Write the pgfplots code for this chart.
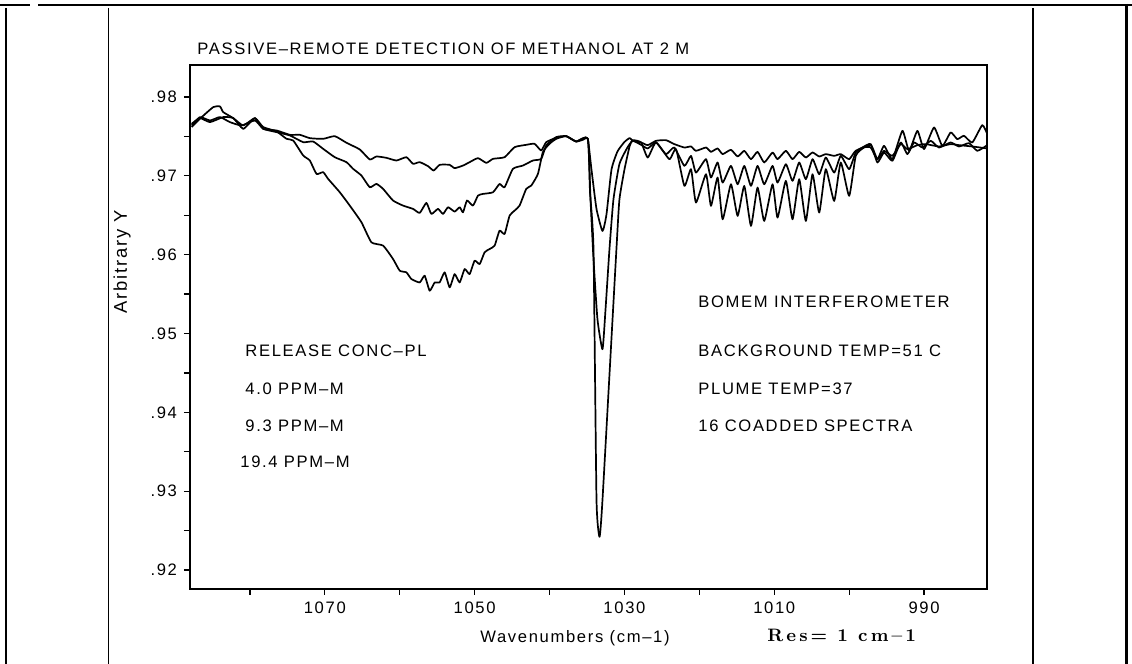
\documentclass[border=0pt]{standalone}
\usepackage{fontspec}
\usepackage{pgfplots}
\pgfplotsset{compat=1.18}
\newfontfamily\plotfont[LetterSpace=10]{Liberation Sans}
\newfontfamily\resfont[LetterSpace=17]{Latin Modern Roman}
\newcommand{\pf}{\plotfont\fontsize{8.3}{10}\selectfont}
\begin{document}
\begin{tikzpicture}[x=1pt,y=1pt]
\path[use as bounding box] (0,0) rectangle (566,332);
% page frame
\draw[line width=1pt] (0,329.5) -- (15,329.5);
\draw[line width=1pt] (19,329.5) -- (566,329.5);
\draw[line width=0.9pt] (3,328) -- (3,0);
\draw[line width=0.5pt] (54,328) -- (54,0);
\draw[line width=0.6pt] (516.5,328) -- (516.5,0);
\draw[line width=1.3pt] (563.3,330) -- (563.3,0);
\begin{axis}[
  at={(95pt,37.5pt)}, anchor=south west,
  scale only axis, width=398.5pt, height=262pt,
  x dir=reverse,
  xmin=981.6, xmax=1088, ymin=0.91758, ymax=0.98407,
  axis line style={line width=0.7pt},
  tick align=outside, major tick length=3pt,
  tick style={line width=0.6pt, black},
  xtick={1080,1070,1060,1050,1040,1030,1020,1010,1000,990},
  xticklabels={,1070,,1050,,1030,,1010,,990},
  ytick={0.92,0.925,0.93,0.935,0.94,0.945,0.95,0.955,0.96,0.965,0.97,0.975,0.98},
  yticklabels={.92,,.93,,.94,,.95,,.96,,.97,,.98},
  xtick pos=bottom, ytick pos=left,
  ticklabel style={font=\pf},
  /pgf/number format/assume math mode=true,
]
% 4.0 PPM-M
\addplot[black, line width=0.85pt, line join=round, smooth, tension=0.3] coordinates {
(1087.78,0.97661)(1086.67,0.97733)(1085.33,0.97682)(1083.56,0.97746)(1082.22,0.97733)
(1080.89,0.97597)(1079.33,0.97733)(1078.22,0.97597)(1076.44,0.97576)(1074.67,0.97521)
(1073.33,0.97521)(1072.0,0.97479)(1070.22,0.97470)(1068.67,0.97504)(1067.11,0.97420)
(1065.33,0.97335)(1064.0,0.97208)(1063.11,0.97246)(1061.78,0.97229)(1060.44,0.97195)
(1059.11,0.97237)(1058.22,0.97153)(1057.33,0.97174)(1056.22,0.97123)(1055.47,0.97068)
(1054.67,0.97140)(1053.33,0.97140)(1052.67,0.97098)(1051.55,0.97131)(1050.67,0.97174)
(1049.55,0.97225)(1048.44,0.97165)(1047.55,0.97216)(1046.0,0.97237)(1044.67,0.97364)
(1043.11,0.97394)(1042.0,0.97407)(1041.11,0.97322)(1040.44,0.97428)(1039.11,0.97483)
(1037.78,0.97504)(1036.44,0.97436)(1035.5,0.97460)(1034.89,0.97470)
(1034.4,0.9708)(1033.73,0.9658)(1032.93,0.9630)(1032.4,0.9651)(1031.73,0.9708)
(1030.93,0.9731)(1030.0,0.9743)(1029.3,0.9748)
(1028.89,0.97445)(1027.78,0.97424)(1026.89,0.97390)(1025.78,0.97445)(1024.45,0.97453)
(1023.34,0.97403)
(1022.0,0.97360)(1021.11,0.97373)(1020.45,0.97318)(1019.11,0.97360)(1018.45,0.97305)
(1017.56,0.97348)(1016.89,0.97276)(1015.78,0.97331)(1014.89,0.97246)(1014.0,0.97318)
(1013.11,0.97212)(1012.23,0.97305)(1011.34,0.97170)(1010.23,0.97297)(1009.56,0.97212)
(1008.45,0.97318)(1007.56,0.97212)(1006.67,0.97305)(1005.78,0.97233)(1004.89,0.97297)
(1004.0,0.97246)(1003.12,0.97276)(1002.0,0.97254)(1001.12,0.97276)(1000.0,0.97212)
(999.12,0.97318)(997.12,0.97390)(996.23,0.97212)(995.34,0.97318)(994.23,0.97254)
(993.12,0.97403)(992.22,0.97340)(990.89,0.97390)(989.78,0.97403)(988.0,0.97373)
(986.45,0.97403)(985.34,0.97390)(983.56,0.97373)(981.56,0.97348)
};
% 9.3 PPM-M
\addplot[black, line width=0.85pt, line join=round, smooth, tension=0.3] coordinates {
(1087.78,0.97640)(1086.67,0.97746)(1085.33,0.97703)(1084.0,0.97746)(1082.67,0.97682)
(1081.11,0.97640)(1079.33,0.97703)(1078.22,0.97597)(1076.44,0.97555)(1074.67,0.97513)
(1072.89,0.97428)(1071.56,0.97436)(1070.22,0.97343)(1068.67,0.97237)(1067.11,0.97174)
(1066.22,0.97089)(1065.11,0.97004)(1064.0,0.96856)(1063.11,0.96898)(1062.22,0.96835)
(1060.89,0.96687)(1059.56,0.96623)(1058.22,0.96581)(1057.33,0.96530)(1056.44,0.96657)
(1055.78,0.96517)(1054.89,0.96581)(1054.22,0.96517)(1053.55,0.96602)(1052.67,0.96547)
(1052.0,0.96602)(1051.55,0.96538)(1051.02,0.96687)(1050.22,0.96623)(1049.55,0.96750)
(1048.89,0.96771)(1047.55,0.96792)(1046.67,0.96898)(1046.0,0.96856)(1044.89,0.97089)
(1043.55,0.97131)(1042.22,0.97195)(1041.11,0.97216)(1040.44,0.97386)(1039.11,0.97492)
(1037.78,0.97504)(1036.44,0.97436)(1034.89,0.97470)
(1034.53,0.9670)(1034.13,0.9594)(1033.6,0.9518)(1032.93,0.9480)(1032.53,0.9530)
(1032.0,0.9607)(1031.47,0.9670)(1030.67,0.9715)(1029.6,0.9736)
(1028.89,0.97445)(1027.78,0.97394)(1026.89,0.97348)(1025.78,0.97424)(1024.45,0.97276)
(1023.34,0.97360)
(1022.0,0.97127)(1021.11,0.97254)(1020.45,0.97042)(1019.11,0.97212)(1018.45,0.96979)
(1017.56,0.97170)(1016.89,0.96915)(1015.78,0.97127)(1014.89,0.96894)(1014.0,0.97127)
(1013.11,0.96873)(1012.23,0.97127)(1011.34,0.96894)(1010.23,0.97127)(1009.56,0.96915)
(1008.45,0.97148)(1007.56,0.96937)(1006.67,0.97170)(1005.78,0.96958)(1004.89,0.97212)
(1004.0,0.97021)(1003.12,0.97233)(1002.0,0.97042)(1001.12,0.97254)(1000.0,0.97085)
(999.12,0.97297)(998.23,0.97360)(997.12,0.97403)(996.23,0.97170)(995.34,0.97297)
(994.23,0.97191)(993.12,0.97424)(992.22,0.97276)(991.34,0.97424)(990.22,0.97360)
(989.11,0.97445)(988.0,0.97360)(986.45,0.97424)(985.34,0.97373)(984.0,0.97415)
(982.89,0.97318)(981.56,0.97390)
};
% 19.4 PPM-M
\addplot[black, line width=0.85pt, line join=round, smooth, tension=0.3] coordinates {
(1087.78,0.97619)(1086.67,0.97725)(1084.89,0.97873)(1084.0,0.97881)(1083.56,0.97809)
(1082.22,0.97733)(1080.89,0.97640)(1079.33,0.97733)(1078.22,0.97619)(1076.44,0.97564)
(1075.11,0.97470)(1074.22,0.97449)(1072.89,0.97259)(1072.0,0.97195)(1071.11,0.97025)
(1070.22,0.97047)(1069.56,0.96962)(1068.0,0.96792)(1066.67,0.96623)(1065.11,0.96411)
(1063.78,0.96157)(1062.22,0.96115)(1060.89,0.95945)(1060.0,0.95797)(1059.11,0.95776)
(1058.44,0.95691)(1057.33,0.95648)(1056.67,0.95733)(1056.0,0.95543)(1055.33,0.95648)
(1054.67,0.95648)(1054.0,0.95776)(1053.33,0.95585)(1052.67,0.95754)(1052.0,0.95648)
(1051.33,0.95818)(1050.67,0.95754)(1050.0,0.95924)(1049.33,0.95881)(1048.67,0.96030)
(1048.0,0.96072)(1047.33,0.96115)(1046.67,0.96305)(1046.0,0.96263)(1045.33,0.96496)
(1044.67,0.96559)(1044.0,0.96623)(1043.11,0.96835)(1042.44,0.96877)(1041.55,0.97025)
(1040.89,0.97301)(1040.0,0.97407)(1039.11,0.97470)(1037.78,0.97504)(1036.44,0.97436)
(1034.89,0.97470)
(1034.6,0.9680)(1034.13,0.9607)(1033.73,0.9289)(1033.33,0.9242)(1032.93,0.9289)
(1031.07,0.9607)(1030.67,0.9670)(1030.0,0.9708)(1029.3,0.9738)
(1028.89,0.97453)(1027.78,0.97424)(1026.89,0.97233)(1025.78,0.97424)(1024.0,0.97212)
(1023.11,0.97339)
(1022.0,0.96873)(1021.11,0.97085)(1020.45,0.96661)(1019.11,0.97021)(1018.45,0.96619)
(1017.56,0.96979)(1016.89,0.96449)(1015.78,0.96894)(1014.89,0.96492)(1014.0,0.96873)
(1013.11,0.96365)(1012.23,0.96852)(1011.34,0.96428)(1010.23,0.96894)(1009.56,0.96470)
(1008.45,0.96937)(1007.56,0.96449)(1006.67,0.96958)(1005.78,0.96428)(1004.89,0.97021)
(1004.0,0.96534)(1003.12,0.97085)(1002.0,0.96682)(1001.12,0.97170)(1000.0,0.96746)
(999.12,0.97254)(998.0,0.97360)(997.12,0.97360)(996.23,0.97212)(995.34,0.97381)
(994.23,0.97212)(992.89,0.97572)(992.0,0.97318)(990.89,0.97572)(990.0,0.97340)
(988.67,0.97614)(987.56,0.97381)(986.45,0.97551)(985.56,0.97466)(984.67,0.97509)
(983.56,0.97424)(982.23,0.97644)(981.56,0.97530)
};
\end{axis}
% texts
\node[anchor=base west, inner sep=0, font=\pf] at (98.5,304.5) {PASSIVE–REMOTE DETECTION OF METHANOL AT 2 M};
\node[anchor=center, inner sep=0, font=\plotfont\fontsize{9.2}{11}\selectfont, rotate=90] at (61,201) {Arbitrary Y};
\node[anchor=base west, inner sep=0, font=\pf] at (122.5,153.5) {RELEASE CONC–PL};
\node[anchor=base west, inner sep=0, font=\pf] at (122.5,134.5) {4.0 PPM–M};
\node[anchor=base west, inner sep=0, font=\pf] at (122.5,116) {9.3 PPM–M};
\node[anchor=base west, inner sep=0, font=\pf] at (120,98) {19.4 PPM–M};
\node[anchor=base west, inner sep=0, font=\pf] at (349,178) {BOMEM INTERFEROMETER};
\node[anchor=base west, inner sep=0, font=\pf] at (349,153.5) {BACKGROUND TEMP=51 C};
\node[anchor=base west, inner sep=0, font=\pf] at (349,134.5) {PLUME TEMP=37};
\node[anchor=base west, inner sep=0, font=\pf] at (349,116) {16 COADDED SPECTRA};
\node[anchor=base west, inner sep=0, font=\pf] at (240,10.5) {Wavenumbers (cm–1)};
\node[anchor=base west, inner sep=0, font=\resfont\bfseries\fontsize{9}{11}\selectfont] at (383.5,11) {Res= 1 cm–1};
\end{tikzpicture}
\end{document}
